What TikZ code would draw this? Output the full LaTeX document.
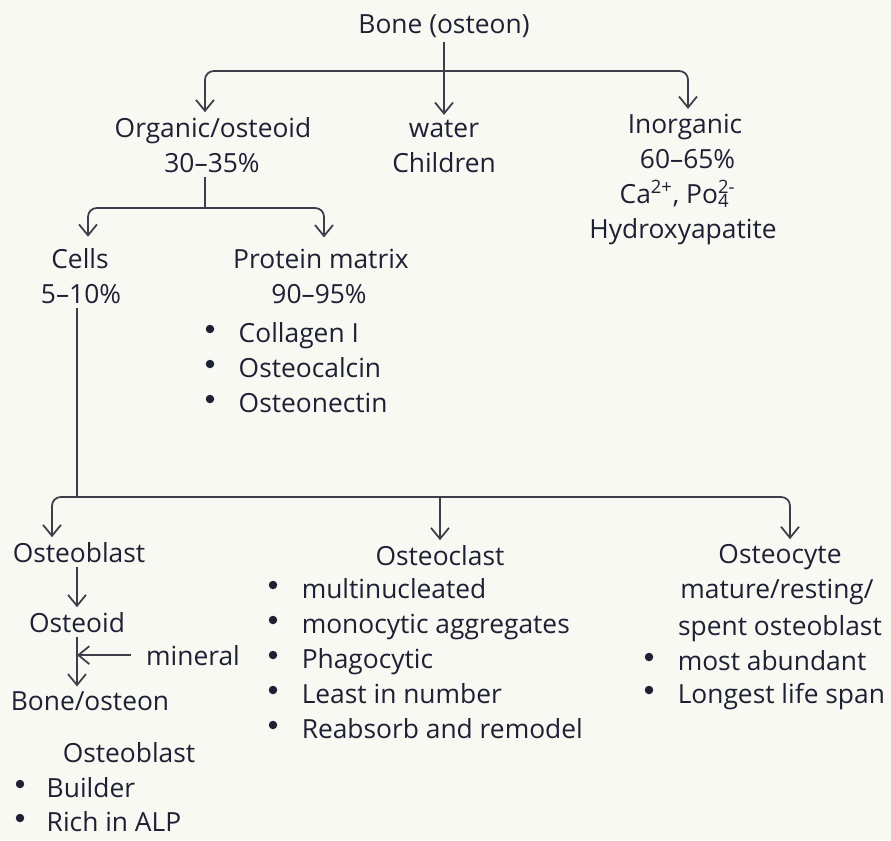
\documentclass[tikz,border=0pt]{standalone}
\usepackage{fontspec}
\setmainfont{Open Sans}
\usetikzlibrary{arrows.meta,positioning,calc}
\definecolor{InkNavy}{RGB}{30,32,52}
\definecolor{LineGray}{RGB}{62,62,74}
\definecolor{PaperTint}{RGB}{249,249,243}
\tikzset{
  txt/.style ={anchor=base, text=InkNavy, font=\fontsize{15}{18}\selectfont, inner sep=2.5pt},
  itm/.style ={txt, anchor=base west},
  dot/.style ={circle, fill=InkNavy, inner sep=0pt, minimum size=1.7mm},
  arr/.style ={-{Straight Barb[length=2.2mm,width=3.6mm]}, draw=LineGray, line width=1pt},
  lnk/.style ={draw=LineGray, line width=1pt},
}

\begin{document}
\begin{tikzpicture}
  \fill[PaperTint] (0,0) rectangle (17.82,-16.8);
  \useasboundingbox (0,0) rectangle (17.82,-16.8);

  \node[txt] (bone) at (8.88,-0.66) {Bone (osteon)};
  \node[txt] (org)  at (4.26,-2.74) {Organic/osteoid};
  \node[txt] (orgp) at (4.24,-3.44) {30--35\%};
  \node[txt] (wat)  at (8.88,-2.74) {water};
  \node[txt] (watc) at (8.88,-3.44) {Children};
  \node[txt] (ino)  at (13.70,-2.66) {Inorganic};
  \node[txt] (inop) at (13.75,-3.36) {60--65\%};
  \node[txt] (inoi) at (13.55,-4.06) {Ca\textsuperscript{2+}, Po\rlap{\textsubscript{4}}\textsuperscript{2-}};
  \node[txt] (inoh) at (13.66,-4.76) {Hydroxyapatite};

  \coordinate (j1) at (8.88,-1.42);
  \draw[arr] (bone.south) -- (wat.north);
  \draw[arr,rounded corners=5pt] (j1) -| ([xshift=-0.16cm]org.north);
  \draw[arr,rounded corners=5pt] (j1) -| ([xshift=0.06cm]ino.north);

  \node[txt] (cel)  at (1.60,-5.36) {Cells};
  \node[txt] (celp) at (1.62,-6.06) {5--10\%};
  \node[txt] (pro)  at (6.42,-5.36) {Protein matrix};
  \node[txt] (prop) at (6.38,-6.06) {90--95\%};
  \foreach \t/\y [count=\i] in {Collagen I/-6.84, Osteocalcin/-7.54, Osteonectin/-8.24}{
    \node[itm] (pm\i) at (4.68,\y) {\t};
    \node[dot] (pmd\i) at (4.20,{\y+0.26}) {};
  }

  \coordinate (j2) at (4.10,-4.16);
  \draw[lnk] (orgp.south -| j2) -- (j2);
  \draw[arr,rounded corners=5pt,shorten >=0.13cm] (j2) -| ([xshift=0.16cm]cel.north);
  \draw[arr,rounded corners=5pt,shorten >=0.13cm] (j2) -| ([xshift=0.06cm]pro.north);

  \node[txt] (obl) at (1.58,-11.24) {Osteoblast};
  \node[txt] (ocl) at (8.80,-11.30) {Osteoclast};
  \node[txt] (ocy) at (15.60,-11.26) {Osteocyte};

  \coordinate (j3) at (1.54,-9.94);
  \draw[lnk] (celp.south -| j3) -- (j3);
  \draw[arr,rounded corners=5pt] (j3) -| ([xshift=-0.54cm]obl.north);
  \draw[arr] (ocl.north |- j3) -- (ocl.north);
  \draw[arr,rounded corners=5pt] (j3) -| ([xshift=0.2cm]ocy.north);

  \node[txt] (oid) at (1.54,-12.64) {Osteoid};
  \node[txt] (min) at (3.86,-13.30) {mineral};
  \node[txt] (bos) at (1.80,-14.20) {Bone/osteon};
  \draw[arr] (oid.north |- obl.south) -- (oid.north);
  \draw[arr] (oid.south) -- (oid.south |- bos.north);
  \draw[arr,shorten <=0.2cm] (min.west) -- (oid.south |- min.west);

  \node[txt] (obf) at (2.58,-15.24) {Osteoblast};
  \foreach \t/\y [count=\i] in {Builder/-15.94, Rich in ALP/-16.62}{
    \node[itm] (ob\i) at (0.84,\y) {\t};
    \node[dot] (obd\i) at (0.40,{\y+0.26}) {};
  }

  \foreach \t/\y [count=\i] in {multinucleated/-11.96, monocytic aggregates/-12.66,
      Phagocytic/-13.36, Least in number/-14.06, Reabsorb and remodel/-14.76}{
    \node[itm] (oc\i) at (5.94,\y) {\t};
    \node[dot] (ocd\i) at (5.46,{\y+0.26}) {};
  }

  \node[txt] (ocym) at (15.54,-11.96) {mature/resting/};
  \node[txt] (ocys) at (15.60,-12.70) {spent osteoblast};
  \foreach \t/\y [count=\i] in {most abundant/-13.40, Longest life span/-14.06}{
    \node[itm] (oy\i) at (13.46,\y) {\t};
    \node[dot] (oyd\i) at (12.98,{\y+0.26}) {};
  }
\end{tikzpicture}
\end{document}
